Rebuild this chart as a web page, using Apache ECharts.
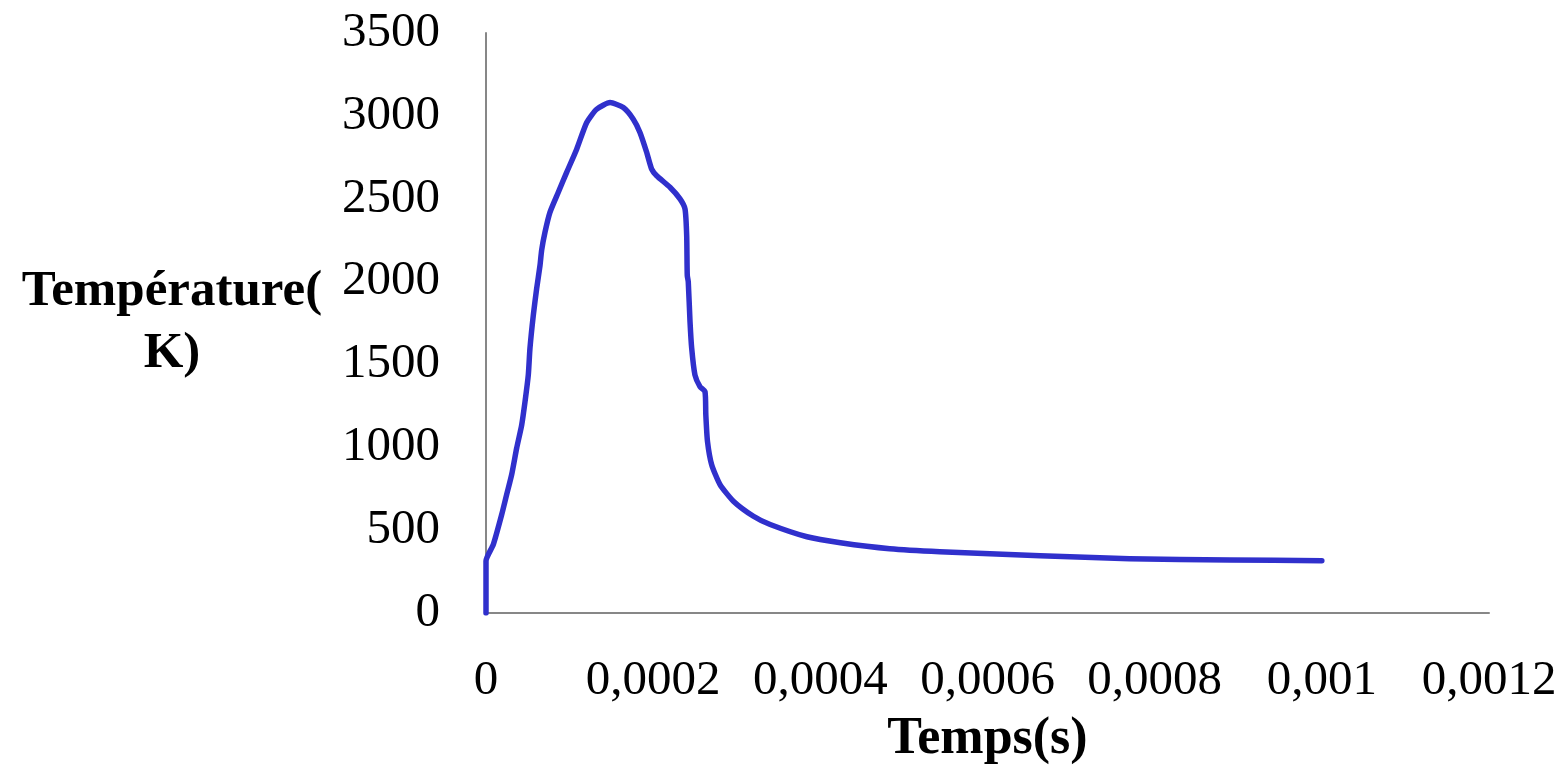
<!DOCTYPE html>
<html>
<head>
<meta charset="utf-8">
<title>Température</title>
<script src="https://cdn.jsdelivr.net/npm/echarts@6/dist/echarts.min.js"></script>
<style>
  html, body { margin: 0; padding: 0; background: #ffffff; }
  #chart { width: 1565px; height: 771px; }
</style>
</head>
<body>
<div id="chart"></div>
<script>
// Temps (s)
const timeValues = [
  0, 0, 8.8e-6, 1.88e-5, 2.47e-5, 3.07e-5, 3.67e-5, 4.27e-5, 4.67e-5, 5.06e-5,
  5.26e-5, 5.66e-5, 6.06e-5, 6.46e-5, 6.66e-5, 7.06e-5, 7.66e-5, 8.65e-5, 9.65e-5,
  1.085e-4, 1.205e-4, 1.324e-4, 1.484e-4, 1.643e-4, 1.762e-4, 1.842e-4, 1.923e-4,
  1.982e-4, 2.042e-4, 2.201e-4, 2.321e-4, 2.381e-4, 2.401e-4, 2.408e-4, 2.42e-4,
  2.441e-4, 2.461e-4, 2.5e-4, 2.56e-4, 2.62e-4, 2.63e-4, 2.65e-4, 2.7e-4, 2.8e-4,
  2.96e-4, 3.2e-4, 3.4e-4, 3.84e-4, 4.24e-4, 4.83e-4, 5.43e-4, 6.63e-4, 7.7e-4,
  8.9e-4, 1.0e-3
];
// Température (K)
const temperatureValues = [
  0, 314, 414, 594, 714, 835, 995, 1135, 1276, 1436,
  1597, 1797, 1957, 2097, 2190, 2298, 2419, 2539, 2659,
  2799, 2960, 3040, 3080, 3050, 2980, 2900, 2779,
  2679, 2639, 2569, 2499, 2438, 2278, 2037, 1998,
  1757, 1597, 1436, 1366, 1336, 1196, 1035, 895, 775,
  675, 584, 534, 460, 424, 388, 370, 346, 328,
  320, 316
];
// Axis ticks
const xTicks = [0, 0.0002, 0.0004, 0.0006, 0.0008, 0.001, 0.0012];
const yTicks = [0, 500, 1000, 1500, 2000, 2500, 3000, 3500];

const xAxisTitle = 'Temps(s)';
const yAxisTitle = 'Température(\nK)';

const points = timeValues.map((t, i) => [t, temperatureValues[i]]);

const serif = '"Liberation Serif", "DejaVu Serif", serif';
// decimal comma, no thousands separator
const fmtComma = v => String(Number(v.toPrecision(6))).replace('.', ',');

const chart = echarts.init(document.getElementById('chart'), null, { renderer: 'canvas' });
chart.setOption({
  animation: false,
  backgroundColor: '#ffffff',
  grid: { left: 486, right: 76, top: 33, bottom: 156, containLabel: false },
  xAxis: {
    type: 'value',
    min: xTicks[0],
    max: xTicks[xTicks.length - 1],
    interval: xTicks[1] - xTicks[0],
    name: xAxisTitle,
    nameLocation: 'middle',
    nameGap: 127,
    nameTextStyle: { fontFamily: serif, fontWeight: 'bold', fontSize: 52, color: '#000', verticalAlign: 'middle' },
    axisLine: { show: true, lineStyle: { color: '#878787', width: 2 } },
    axisTick: { show: false },
    splitLine: { show: false },
    axisLabel: {
      margin: 44,
      fontFamily: serif, fontSize: 49, color: '#000',
      formatter: fmtComma
    }
  },
  yAxis: {
    type: 'value',
    min: yTicks[0],
    max: yTicks[yTicks.length - 1],
    interval: yTicks[1] - yTicks[0],
    name: yAxisTitle,
    nameLocation: 'middle',
    nameRotate: 0,
    nameGap: 314,
    nameTextStyle: { fontFamily: serif, fontWeight: 'bold', fontSize: 51, color: '#000', align: 'center', verticalAlign: 'middle', lineHeight: 62 },
    axisLine: { show: true, lineStyle: { color: '#878787', width: 2 } },
    axisTick: { show: false },
    splitLine: { show: false },
    axisLabel: {
      margin: 46,
      fontFamily: serif, fontSize: 49, color: '#000',
      formatter: fmtComma
    }
  },
  series: [{
    type: 'line',
    data: points,
    showSymbol: false,
    smooth: 0.2,
    lineStyle: { color: '#3030cc', width: 5.5, join: 'round', cap: 'round' },
    itemStyle: { color: '#3030cc' }
  }]
});
</script>
</body>
</html>
